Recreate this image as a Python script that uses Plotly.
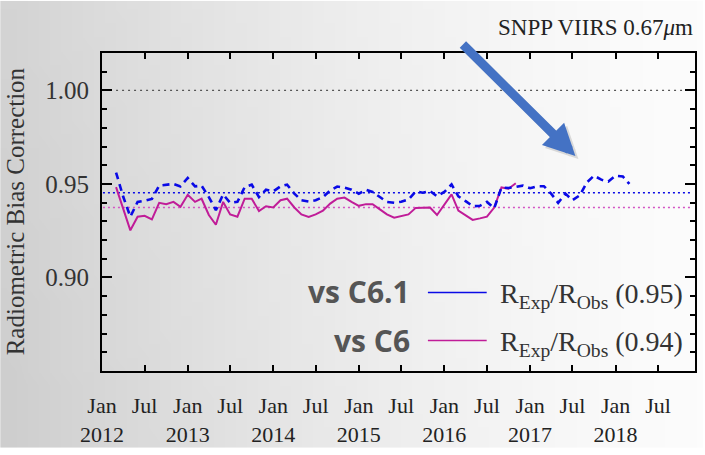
import base64, struct, zlib
import pandas as pd
import plotly.graph_objects as go

# ---------------- data ----------------
c61_start = "2012-03-01"
c61_vals = [0.9561, 0.9430, 0.9325, 0.9404, 0.9410, 0.9420, 0.9491, 0.9496, 0.9500, 0.9487,
            0.9532, 0.9487, 0.9491, 0.9430, 0.9360, 0.9444, 0.9399, 0.9404, 0.9483, 0.9496,
            0.9430, 0.9469, 0.9460, 0.9487, 0.9496, 0.9448, 0.9413, 0.9406, 0.9413, 0.9430,
            0.9465, 0.9486, 0.9480, 0.9469, 0.9448, 0.9469, 0.9457, 0.9430, 0.9404, 0.9399,
            0.9405, 0.9417, 0.9460, 0.9453, 0.9462, 0.9434, 0.9457, 0.9497, 0.9434, 0.9408,
            0.9381, 0.9383, 0.9404, 0.9370, 0.9481, 0.9478, 0.9483, 0.9491, 0.9477, 0.9488,
            0.9488, 0.9448, 0.9399, 0.9448, 0.9413, 0.9439, 0.9509, 0.9544, 0.9523, 0.9513,
            0.9544, 0.9540, 0.9500]

c6_start = "2012-03-01"
c6_vals = [0.9483, 0.9360, 0.9252, 0.9325, 0.9330, 0.9311, 0.9399, 0.9392, 0.9404, 0.9378,
           0.9442, 0.9404, 0.9421, 0.9334, 0.9282, 0.9404, 0.9337, 0.9325, 0.9421, 0.9421,
           0.9355, 0.9381, 0.9374, 0.9413, 0.9421, 0.9374, 0.9337, 0.9324, 0.9337, 0.9357,
           0.9395, 0.9421, 0.9427, 0.9404, 0.9383, 0.9392, 0.9392, 0.9364, 0.9337, 0.9320,
           0.9329, 0.9337, 0.9372, 0.9372, 0.9374, 0.9334, 0.9390, 0.9444, 0.9357, 0.9330,
           0.9308, 0.9316, 0.9325, 0.9374, 0.9481, 0.9474, 0.9504]

mean_c61 = 0.9453
mean_c6 = 0.9374
unity = 1.00
unity_span = ["2012-03-01", "2018-10-15"]
mean_span = ["2012-01-05", "2018-11-18"]

x_tick_dates = ["2012-01-01", "2012-07-01", "2013-01-01", "2013-07-01", "2014-01-01",
                "2014-07-01", "2015-01-01", "2015-07-01", "2016-01-01", "2016-07-01",
                "2017-01-01", "2017-07-01", "2018-01-01", "2018-07-01"]
x_tick_text = ["Jan<br>2012", "Jul", "Jan<br>2013", "Jul", "Jan<br>2014", "Jul",
               "Jan<br>2015", "Jul", "Jan<br>2016", "Jul", "Jan<br>2017", "Jul",
               "Jan<br>2018", "Jul"]
y_tick_vals = [0.90, 0.95, 1.00]
y_tick_text = ["0.90", "0.95", "1.00"]
x_range = ["2012-01-01", "2018-12-06"]
y_range = [0.85, 1.02]

c61_dates = pd.date_range(c61_start, periods=len(c61_vals), freq="MS")
c6_dates = pd.date_range(c6_start, periods=len(c6_vals), freq="MS")

# ---------------- layout geometry ----------------
W, H = 705, 455
L, R, T, B = 102, 8, 53, 78
PW, PH = W - L - R, H - T - B


def xp(px):
    return (px - L) / PW


def yp(py):
    return (H - B - py) / PH


# background gradient as a small PNG
def gradient_png(w, h):
    rows = []
    for j in range(h):
        v = j / (h - 1)
        row = bytearray([0])
        for i in range(w):
            u = i / (w - 1)
            c = 252 - 40 * (1 - u) ** 1.5 - 6 * v * (1 - u)
            c = int(max(0, min(255, c)))
            row += bytes([c, c, c])
        rows.append(bytes(row))
    raw = b"".join(rows)

    def chunk(tag, data):
        return (struct.pack(">I", len(data)) + tag + data +
                struct.pack(">I", zlib.crc32(tag + data) & 0xffffffff))

    png = (b"\x89PNG\r\n\x1a\n" +
           chunk(b"IHDR", struct.pack(">IIBBBBB", w, h, 8, 2, 0, 0, 0)) +
           chunk(b"IDAT", zlib.compress(raw, 9)) +
           chunk(b"IEND", b""))
    return "data:image/png;base64," + base64.b64encode(png).decode()


SERIF = "Liberation Serif"
BLUE = "#0a0ae6"
MAG = "#c01c98"

fig = go.Figure()

# reference lines
fig.add_trace(go.Scatter(x=unity_span, y=[unity, unity], mode="lines",
                         line=dict(color="#555555", width=1.4, dash="2px,4px"),
                         hoverinfo="skip", showlegend=False))
fig.add_trace(go.Scatter(x=mean_span, y=[mean_c61, mean_c61], mode="lines",
                         line=dict(color=BLUE, width=1.6, dash="2px,3px"),
                         hoverinfo="skip", showlegend=False))
fig.add_trace(go.Scatter(x=mean_span, y=[mean_c6, mean_c6], mode="lines",
                         line=dict(color="#d455c4", width=1.6, dash="2px,3px"),
                         hoverinfo="skip", showlegend=False))

# series
fig.add_trace(go.Scatter(x=c6_dates, y=c6_vals, mode="lines",
                         line=dict(color=MAG, width=2),
                         name="vs C6", showlegend=False))
fig.add_trace(go.Scatter(x=c61_dates, y=c61_vals, mode="lines",
                         line=dict(color=BLUE, width=2.6, dash="7px,5px"),
                         name="vs C6.1", showlegend=False))

fig.update_layout(
    width=W, height=H,
    margin=dict(l=L, r=R, t=T, b=B, pad=0),
    paper_bgcolor="white",
    plot_bgcolor="rgba(0,0,0,0)",
    images=[dict(source=gradient_png(64, 32), xref="paper", yref="paper",
                 x=xp(0), y=yp(0), sizex=W / PW, sizey=H / PH,
                 xanchor="left", yanchor="top", sizing="stretch", layer="below")],
    xaxis=dict(type="date", range=x_range, tickmode="array",
               tickvals=x_tick_dates, ticktext=x_tick_text,
               ticks="inside", ticklen=6, tickwidth=1.5, tickcolor="black",
               showline=True, linewidth=2, linecolor="black", mirror="ticks",
               showgrid=False, zeroline=False, ticklabelstandoff=14,
               tickfont=dict(family=SERIF, size=22, color="#222222")),
    yaxis=dict(range=y_range, tickmode="array", tickvals=y_tick_vals, ticktext=y_tick_text,
               ticks="inside", ticklen=10, tickwidth=1.5, tickcolor="black",
               minor=dict(tickmode="linear", tick0=0.85, dtick=0.01, ticks="inside",
                          ticklen=5, tickwidth=1.5, tickcolor="black"),
               showline=True, linewidth=2, linecolor="black", mirror="ticks",
               showgrid=False, zeroline=False, ticklabelstandoff=6,
               tickfont=dict(family=SERIF, size=25, color="#333333")),
    showlegend=False,
)

ann = []
# y-axis title
ann.append(dict(text="Radiometric Bias Correction", xref="paper", yref="paper",
                x=xp(15), y=yp(214), xanchor="center", yanchor="middle", textangle=-90,
                showarrow=False, font=dict(family=SERIF, size=25, color="#333333")))
# title
ann.append(dict(text="SNPP VIIRS 0.67<i>μ</i>m", xref="paper", yref="paper",
                x=xp(697), y=yp(27), xanchor="right", yanchor="middle",
                showarrow=False, font=dict(family=SERIF, size=23, color="#222222")))
# arrow shadow and arrow
ann.append(dict(text="", xref="paper", yref="paper", x=xp(580), y=yp(161),
                ax=-114, ay=-113, showarrow=True, arrowhead=2, arrowsize=0.7,
                arrowwidth=9, arrowcolor="rgba(0,0,0,0.12)"))
ann.append(dict(text="", xref="paper", yref="paper", x=xp(577), y=yp(158),
                ax=-114, ay=-113, showarrow=True, arrowhead=2, arrowsize=0.7,
                arrowwidth=9, arrowcolor="#4472C4"))
# legend labels
for label, py in [("vs C6.1", 296), ("vs C6", 346)]:
    ann.append(dict(text="<b>%s</b>" % label, xref="paper", yref="paper",
                    x=xp(413), y=yp(py), xanchor="right", yanchor="middle",
                    showarrow=False, font=dict(family="Open Sans", size=30, color="#555555")))
for mean_txt, py in [("(0.95)", 300), ("(0.94)", 349)]:
    ann.append(dict(text="R<sub>Exp</sub>/R<sub>Obs</sub> " + mean_txt,
                    xref="paper", yref="paper", x=xp(499), y=yp(py),
                    xanchor="left", yanchor="middle", showarrow=False,
                    font=dict(family=SERIF, size=28, color="#333333")))
fig.update_layout(annotations=ann)

# legend line samples
for color, py in [(BLUE, 297), (MAG, 346)]:
    fig.add_shape(type="line", xref="paper", yref="paper",
                  x0=xp(429), x1=xp(488), y0=yp(py), y1=yp(py),
                  line=dict(color=color, width=1.6))

fig.write_html("out.html")
